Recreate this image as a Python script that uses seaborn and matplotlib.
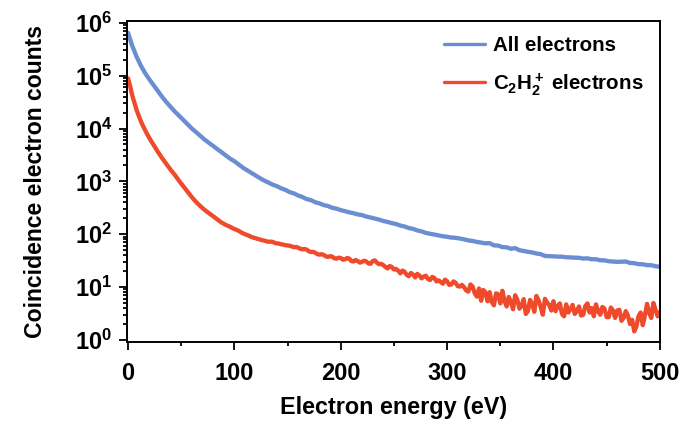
import numpy as np
import pandas as pd
import matplotlib
matplotlib.use("Agg")
import matplotlib.pyplot as plt
from matplotlib.ticker import LogLocator, FuncFormatter, MultipleLocator, NullFormatter, FixedLocator
import seaborn as sns

# Energy bin widths (eV); each count list starts at 0 eV.
all_step = 4
c2h2_step = 2

# Coincidence counts for all detected electrons (4 eV bins)
all_counts = [
    646000, 363000, 229000, 155000, 112000, 85100, 66100, 51300, 39800, 31600,
    25700, 20900, 17400, 14500, 12000, 10000, 8510, 7240, 6170, 5370,
    4680, 4070, 3550, 3090, 2690, 2400, 2090, 1820, 1620, 1445,
    1290, 1150, 1035, 950, 866, 810, 738, 690, 625, 592,
    540, 505, 462, 441, 404, 383, 356, 342, 316, 305,
    286, 273, 259, 250, 237, 230, 216, 207, 198, 189,
    178, 171, 162, 156, 146, 140, 131, 126, 118, 113,
    106, 102, 98.5, 95, 91.5, 89.5, 86.5, 85.5, 83, 80,
    76.5, 74.5, 71.5, 69.5, 67.2, 67.8, 61.5, 61.0, 57.0, 56.6,
    53.0, 54.6, 49.8, 48.2, 46.4, 45.2, 43.2, 42.0, 38.8, 38.4,
    38.2, 37.6, 37.7, 36.6, 36.4, 36.0, 35.8, 34.6, 35.0, 33.6,
    33.6, 32.2, 32.0, 30.8, 30.4, 30.0, 30.2, 30.4, 28.6, 28.3,
    27.2, 27.0, 26.0, 25.9, 24.8, 24.2,
]

# Coincidence counts for electrons detected together with C2H2+ ions (2 eV bins)
c2h2_counts = [
    89000, 62000, 41700, 30300, 22400, 17400, 13800, 11200, 9330, 7800,
    6610, 5650, 4900, 4200, 3630, 3150, 2750, 2420, 2140, 1880,
    1660, 1480, 1320, 1160, 1020, 905, 804, 712, 631, 562,
    501, 450, 407, 370, 339, 312, 288, 268, 251, 234,
    219, 204, 190, 177, 166, 158, 150, 144, 138, 131,
    125, 121, 116, 109, 104, 100, 96.5, 93, 88.5, 86,
    83.5, 81.5, 79.5, 77, 76, 73.5, 72, 72.5, 71.5, 68.5,
    67, 66.5, 64.5, 63.5, 62, 61.5, 60.5, 58.5, 56.8, 57.5,
    55.5, 53, 51.8, 52.5, 51, 47.5, 46, 46.5, 44.5, 42,
    41, 42, 40.5, 38, 37.2, 38.5, 37.6, 35, 34.5, 36,
    35.5, 33, 33.5, 35.5, 34.5, 31, 30.5, 32.5, 31, 29,
    30, 31.5, 30.5, 28, 27.5, 31, 32, 29, 27, 27.5,
    26, 24, 22.5, 25, 24, 21.5, 22, 20.5, 18.2, 20.5,
    19.5, 17, 16.1, 18.5, 17.2, 15.2, 17.8, 16.5, 14.6, 15.8,
    16.4, 14.2, 13.6, 15.5, 14.9, 12.8, 13.4, 12.5, 11.6, 13.8,
    12.9, 11.0, 11.2, 12.8, 12.1, 10.4, 10.2, 11.0, 9.9, 8.6,
    8.2, 11.2, 10.2, 7.6, 6.6, 9.4, 5.5, 8.8, 8.0, 5.4,
    8.0, 5.2, 4.5, 7.6, 7.3, 4.9, 8.5, 5.5, 4.3, 6.5,
    5.2, 3.8, 7.0, 5.8, 3.9, 4.4, 5.9, 3.1, 3.5, 5.7,
    4.8, 3.4, 6.8, 5.6, 4.2, 3.0, 6.0, 5.1, 4.6, 3.6,
    5.4, 3.5, 4.4, 4.9, 3.1, 2.8, 4.7, 3.3, 3.8, 4.6,
    3.1, 3.5, 4.3, 2.9, 3.0, 4.4, 4.9, 3.3, 4.0, 2.8,
    4.7, 3.5, 3.0, 4.2, 3.9, 2.7, 2.7, 4.1, 3.6, 2.6,
    3.6, 3.7, 2.3, 2.6, 3.5, 2.9, 2.0, 2.4, 1.45, 1.8,
    2.8, 3.3, 1.9, 2.9, 4.8, 3.3, 2.6, 5.0, 3.7, 2.8,
    3.4,
]

series_labels = ["All electrons", r"C$_2$H$_2^+$ electrons"]
series_colors = ["#6b8dd1", "#ee4a2b"]
x_ticks = [0, 100, 200, 300, 400, 500]
y_tick_values = [1e0, 1e1, 1e2, 1e3, 1e4, 1e5, 1e6]

all_energy = np.arange(len(all_counts)) * all_step
c2h2_energy = np.arange(len(c2h2_counts)) * c2h2_step
df = pd.DataFrame({
    "energy": np.concatenate([all_energy, c2h2_energy]),
    "counts": list(all_counts) + list(c2h2_counts),
    "series": [series_labels[0]] * len(all_counts) + [series_labels[1]] * len(c2h2_counts),
})

sns.set_theme(style="ticks")
plt.rcParams.update({
    "font.family": ["Liberation Sans", "DejaVu Sans"],
    "font.weight": "bold",
    "axes.labelweight": "bold",
    "mathtext.fontset": "custom",
    "mathtext.rm": "Liberation Sans:bold",
    "mathtext.it": "Liberation Sans:bold:italic",
    "mathtext.bf": "Liberation Sans:bold",
    "mathtext.default": "regular",
    "text.color": "black",
    "axes.labelcolor": "black",
    "xtick.color": "black",
    "ytick.color": "black",
})

fig = plt.figure(figsize=(6.83, 4.22), dpi=100)
ax = fig.add_axes([0.186, 0.190, 0.780, 0.760])

sns.lineplot(
    data=df, x="energy", y="counts", hue="series",
    hue_order=series_labels, palette=series_colors,
    estimator=None, sort=False, linewidth=3.1, ax=ax,
)

ax.set_yscale("log")
ax.set_xlim(-1, 500)
ax.set_ylim(0.92, 1.08e6)

ax.xaxis.set_major_locator(FixedLocator(x_ticks))
ax.xaxis.set_minor_locator(MultipleLocator(50))
ax.yaxis.set_major_locator(FixedLocator(y_tick_values))
ax.yaxis.set_minor_locator(LogLocator(base=10, subs=np.arange(2, 10), numticks=20))
ax.yaxis.set_minor_formatter(NullFormatter())
ax.yaxis.set_major_formatter(
    FuncFormatter(lambda v, _: r"$\mathdefault{10^{%d}}$" % int(round(np.log10(v))))
)

for spine in ax.spines.values():
    spine.set_visible(True)
    spine.set_linewidth(1.4)
    spine.set_color("black")

ax.tick_params(which="both", direction="out", top=False, right=False, width=1.3, color="black")
ax.tick_params(which="major", length=5.5, labelsize=17)
ax.tick_params(which="minor", length=3)
ax.tick_params(axis="x", which="major", pad=9)
ax.tick_params(axis="y", which="major", pad=5)

ax.set_xlabel("Electron energy (eV)", fontsize=16.8)
ax.set_ylabel("Coincidence electron counts", fontsize=16.6)
ax.xaxis.set_label_coords(0.5, -0.168)
ax.yaxis.set_label_coords(-0.150, 0.5)

leg = ax.legend(
    frameon=False, loc="upper left", bbox_to_anchor=(0.595, 0.952),
    prop={"weight": "bold", "size": 14.8}, handlelength=2.0, handletextpad=0.4,
    labelspacing=0.75, borderaxespad=0, borderpad=0,
)
for line in leg.get_lines():
    line.set_linewidth(2.4)

fig.savefig("out.png", dpi=100, facecolor="white")
